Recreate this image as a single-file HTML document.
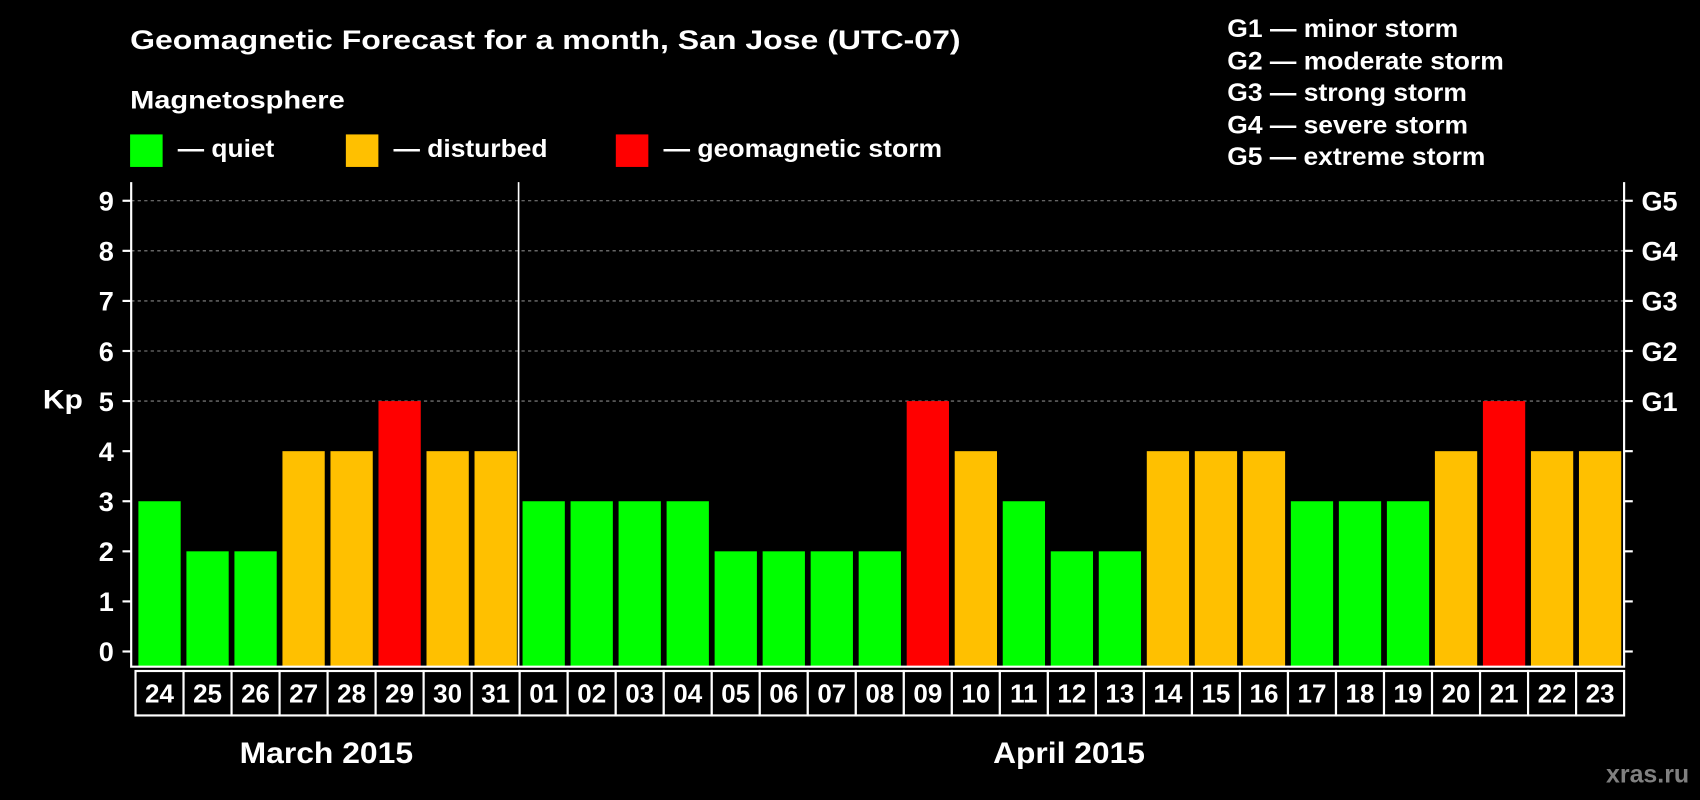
<!DOCTYPE html>
<html><head><meta charset="utf-8"><style>
html,body{margin:0;padding:0;background:#000;}
svg{display:block;font-family:"Liberation Sans",Arial,sans-serif;font-weight:bold;}
</style></head><body>
<svg id="chart" width="1700" height="800" viewBox="0 0 1568 738" preserveAspectRatio="none" xmlns="http://www.w3.org/2000/svg">
<rect x="0" y="0" width="1568" height="738" fill="#000"/>
<text x="120" y="45" fill="#fff" font-size="25" textLength="766" lengthAdjust="spacingAndGlyphs">Geomagnetic Forecast for a month, San Jose (UTC-07)</text>
<text x="120" y="100" fill="#fff" font-size="23" textLength="198" lengthAdjust="spacingAndGlyphs">Magnetosphere</text>
<g><rect x="120" y="124" width="30" height="30" fill="#00ff00"/><text x="164" y="145" fill="#fff" font-size="23" textLength="89" lengthAdjust="spacingAndGlyphs">— quiet</text></g>
<g><rect x="319" y="124" width="30" height="30" fill="#ffc000"/><text x="363" y="145" fill="#fff" font-size="23" textLength="142" lengthAdjust="spacingAndGlyphs">— disturbed</text></g>
<g><rect x="568" y="124" width="30" height="30" fill="#ff0000"/><text x="612" y="145" fill="#fff" font-size="23" textLength="257" lengthAdjust="spacingAndGlyphs">— geomagnetic storm</text></g>
<g fill="#fff" font-size="23">
<text x="1132" y="34" textLength="213" lengthAdjust="spacingAndGlyphs">G1 — minor storm</text>
<text x="1132" y="64" textLength="255" lengthAdjust="spacingAndGlyphs">G2 — moderate storm</text>
<text x="1132" y="93" textLength="221" lengthAdjust="spacingAndGlyphs">G3 — strong storm</text>
<text x="1132" y="123" textLength="222" lengthAdjust="spacingAndGlyphs">G4 — severe storm</text>
<text x="1132" y="152" textLength="238" lengthAdjust="spacingAndGlyphs">G5 — extreme storm</text>
</g>
<text x="58" y="377" fill="#fff" font-size="25" text-anchor="middle" textLength="37" lengthAdjust="spacingAndGlyphs">Kp</text>
<g id="plot"></g>
<text x="301" y="704" fill="#fff" font-size="27" text-anchor="middle" textLength="160" lengthAdjust="spacingAndGlyphs">March 2015</text>
<text x="986" y="704" fill="#fff" font-size="27" text-anchor="middle" textLength="140" lengthAdjust="spacingAndGlyphs">April 2015</text>
<text x="1558" y="722" fill="#808080" font-size="23" text-anchor="end">xras.ru</text>
</svg>
<script>
const days=["24","25","26","27","28","29","30","31","01","02","03","04","05","06","07","08","09","10","11","12","13","14","15","16","17","18","19","20","21","22","23"];
const kp=[3,2,2,4,4,5,4,4,3,3,3,3,2,2,2,2,5,4,3,2,2,4,4,4,3,3,3,4,5,4,4];
const yTicks=[0,1,2,3,4,5,6,7,8,9];
const gLabels=["G1","G2","G3","G4","G5"];
const NS="http://www.w3.org/2000/svg";
const g=document.getElementById('plot');
const L=121,R=1498,T=168,B=615,pitch=(R-L-4)/days.length,x0=L+4;
function y(v){return 601-v*46.2;}
function xc(i){return x0+pitch*i+pitch/2;}
function mk(t,a,p){const e=document.createElementNS(NS,t);for(const k in a)e.setAttribute(k,a[k]);(p||g).appendChild(e);return e;}
yTicks.forEach(v=>{if(v>=5){const l=mk('line',{x1:L,x2:R,y1:y(v),y2:y(v),stroke:'#888','stroke-dasharray':'3,3','stroke-width':1});

}});
kp.forEach((v,i)=>{const c=v>=5?'#ff0000':v>=4?'#ffc000':'#00ff00';
const r=mk('rect',{x:xc(i)-19.5,y:y(v),width:39,height:B-y(v),fill:c});

});
const fr=mk('path',{d:`M${L} ${T} V${B} H${R} V${T}`,fill:'none',stroke:'#fff','stroke-width':2});


const sep=mk('line',{x1:x0+pitch*8-1,x2:x0+pitch*8-1,y1:T,y2:B,stroke:'#fff','stroke-width':1.5});


yTicks.forEach(v=>{mk('line',{x1:L-8,x2:L,y1:y(v),y2:y(v),stroke:'#fff','stroke-width':2});
mk('line',{x1:R,x2:R+8,y1:y(v),y2:y(v),stroke:'#fff','stroke-width':2});
const t=mk('text',{x:L-16,y:y(v)+9,fill:'#fff','font-size':25,'text-anchor':'end'});t.textContent=v;

});
gLabels.forEach((s,i)=>{const t=mk('text',{x:R+16,y:y(5+i)+9,fill:'#fff','font-size':25});t.textContent=s;

});
days.forEach((d,i)=>{const bx=x0+pitch*i;
const r=mk('rect',{x:bx,y:619,width:pitch,height:41,fill:'#000',stroke:'#fff','stroke-width':2});


const t=mk('text',{x:bx+pitch/2,y:648,fill:'#fff','font-size':24,'text-anchor':'middle'});t.textContent=d;

});
</script>
</body></html>
